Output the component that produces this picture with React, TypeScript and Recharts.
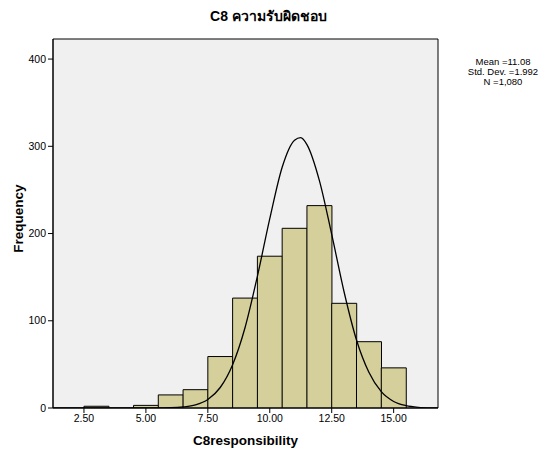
import React from "react";
import {
  ComposedChart,
  Bar,
  Line,
  XAxis,
  YAxis,
  CartesianGrid,
  ReferenceArea,
  Label,
} from "recharts";

// Histogram bins (centre of each 1-unit bin) and frequencies
const binCenters = [3, 4, 5, 6, 7, 8, 9, 10, 11, 12, 13, 14, 15];
const binCounts = [2, 0, 3, 15, 21, 59, 126, 174, 206, 232, 120, 76, 46];

// Normal curve
const curveX = [1.25, 4, 5, 5.5, 6, 6.5, 7, 7.5, 8, 8.5, 9, 9.5, 10, 10.5, 11, 11.25, 11.5, 12, 12.5, 13, 13.5, 14, 14.5, 15, 15.5, 16, 16.5, 16.79];
const curveY = [0, 0, 0.1, 0.1, 0.3, 1.2, 3.6, 9.8, 23.5, 49.6, 92, 151, 217, 276, 307, 310, 302, 261, 199, 133, 78, 41, 18.7, 7.5, 2.7, 0.8, 0.2, 0.1];

const xTicks = [2.5, 5, 7.5, 10, 12.5, 15];
const yTicks = [0, 100, 200, 300, 400];
const xDomain: [number, number] = [1.25, 16.79];
const yDomain: [number, number] = [0, 423];

const title = "C8 ความรับผิดชอบ";
const xTitle = "C8responsibility";
const yTitle = "Frequency";
const statLines = ["Mean =11.08", "Std. Dev. =1.992", "N =1,080"];

const binData = binCenters.map((x, i) => ({ x, count: binCounts[i] }));
const curveData = curveX.map((cx, i) => ({ cx, cy: curveY[i] }));

const FONT = "'Liberation Sans', Arial, 'Noto Sans', 'DejaVu Sans', sans-serif";

export default function App() {
  return (
    <div
      style={{
        position: "absolute",
        left: 0,
        top: 0,
        width: 547,
        height: 454,
        background: "#fff",
        fontFamily: FONT,
      }}
    >
      <div
        style={{
          position: "absolute",
          left: 0,
          top: 7,
          width: 537,
          textAlign: "center",
          fontSize: 14,
          fontWeight: "bold",
          lineHeight: "18px",
          color: "#000",
        }}
      >
        {title}
      </div>
      <div
        style={{
          position: "absolute",
          left: 453,
          top: 57,
          width: 100,
          textAlign: "center",
          fontSize: 9.5,
          lineHeight: "10px",
          color: "#000",
        }}
      >
        {statLines.map((s) => (
          <div key={s}>{s}</div>
        ))}
      </div>
      <ComposedChart
        width={547}
        height={454}
        data={binData}
        margin={{ top: 39, right: 109, bottom: 0, left: 0 }}
        barCategoryGap={0}
        barGap={0}
        style={{ fontFamily: FONT }}
      >
        <CartesianGrid fill="#F0F0F0" horizontal={false} vertical={false} stroke="none" xAxisId="bin" />
        <XAxis
          xAxisId="bin"
          dataKey="x"
          type="number"
          domain={xDomain}
          allowDataOverflow
          ticks={xTicks}
          interval={0}
          tickFormatter={(v: number) => v.toFixed(2)}
          height={46}
          stroke="#000"
          tickSize={5}
          tick={{ fontSize: 10.5, fill: "#000" }}
        >
          <Label
            value={xTitle}
            position="insideBottom"
            offset={9}
            style={{ fontSize: 13.5, fontWeight: "bold", fill: "#000" }}
          />
        </XAxis>
        <XAxis
          xAxisId="curve"
          dataKey="cx"
          type="number"
          domain={xDomain}
          allowDataOverflow
          hide
        />
        <YAxis
          type="number"
          domain={yDomain}
          allowDataOverflow
          ticks={yTicks}
          interval={0}
          width={53}
          stroke="#000"
          tickSize={5}
          tick={{ fontSize: 10.5, fill: "#000" }}
        >
          <Label
            value={yTitle}
            angle={-90}
            position="insideLeft"
            offset={18}
            dy={-5}
            style={{ fontSize: 13.5, fontWeight: "bold", fill: "#000", textAnchor: "middle" }}
          />
        </YAxis>
        <Bar
          xAxisId="bin"
          dataKey="count"
          fill="#D4CF9B"
          stroke="#000"
          strokeWidth={1}
          isAnimationActive={false}
        />
        <Line
          xAxisId="curve"
          data={curveData}
          dataKey="cy"
          type="monotone"
          stroke="#000"
          strokeWidth={1.3}
          dot={false}
          activeDot={false}
          isAnimationActive={false}
        />
        <ReferenceArea
          xAxisId="bin"
          x1={xDomain[0]}
          x2={xDomain[1]}
          y1={yDomain[0]}
          y2={yDomain[1]}
          fill="none"
          stroke="#000"
          strokeWidth={1}
          ifOverflow="visible"
        />
      </ComposedChart>
    </div>
  );
}
